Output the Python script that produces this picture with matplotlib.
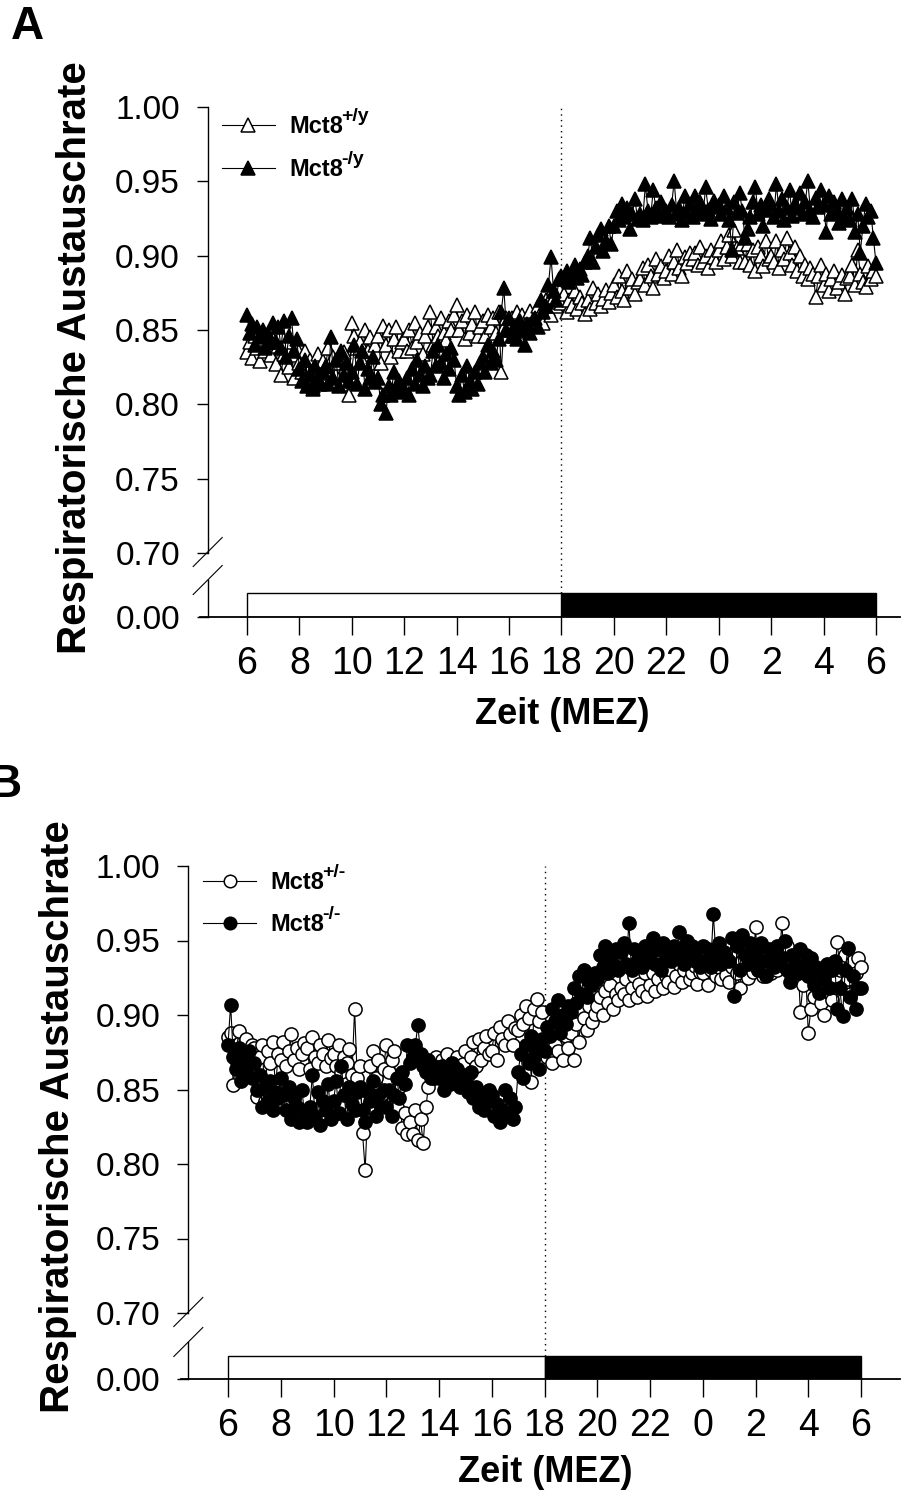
import numpy as np
import matplotlib
matplotlib.use("Agg")
import matplotlib.pyplot as plt
from matplotlib.lines import Line2D
from matplotlib.ticker import FormatStrFormatter

plt.rcParams['font.family'] = ['Liberation Sans', 'DejaVu Sans']

# ---------------- data ----------------
# one value every 6 minutes from 6:00 to 6:00 next day (hours since midnight)
minutes = np.arange(0, 24 * 60 + 1, 6)
hours = 6 + minutes / 60.0

xticks = [6, 8, 10, 12, 14, 16, 18, 20, 22, 24, 26, 28, 30]
xticklabels = ['6', '8', '10', '12', '14', '16', '18', '20', '22', '0', '2', '4', '6']
yticks = [0.70, 0.75, 0.80, 0.85, 0.90, 0.95, 1.00]

phase_start = [6, 18]
phase_width = [12, 12]
phase_color = ['white', 'black']
lights_off = 18

# Panel A (male): Mct8+/y (open) and Mct8-/y (filled)
rer_wt_male = [
    .835, .842, .831, .846, .838, .829, .844, .836, .840, .833,
    .844, .827, .839, .820, .834, .842, .825, .833, .818, .838,
    .828, .822, .836, .818, .830, .812, .826, .834, .821, .829,
    .826, .838, .816, .832, .820, .828, .814, .835, .822, .806,
    .855, .846, .838, .842, .830, .850, .836, .845, .828, .840,
    .846, .828, .853, .840, .850, .832, .844, .852, .836, .842,
    .844, .836, .850, .838, .855, .842, .848, .834, .846, .852,
    .862, .840, .852, .846, .858, .848, .843, .856, .850, .860,
    .867, .850, .856, .844, .860, .848, .854, .862, .846, .852,
    .856, .846, .860, .852, .858, .848, .862, .822, .852, .858,
    .850, .858, .846, .862, .854, .860, .849, .856, .863, .855,
    .858, .866, .862, .855, .870, .864, .860, .872, .866, .869,
    .868, .874, .862, .870, .866, .876, .864, .872, .868, .861,
    .870, .864, .878, .868, .874, .866, .871, .877, .869, .875,
    .880, .872, .886, .876, .870, .890, .878, .884, .874, .882,
    .884, .892, .880, .894, .886, .878, .898, .888, .893, .885,
    .890, .900, .888, .896, .904, .892, .886, .899, .895, .902,
    .898, .902, .894, .906, .896, .900, .892, .904, .899, .896,
    .904, .910, .898, .906, .914, .900, .917, .905, .896, .908,
    .896, .908, .894, .904, .890, .906, .900, .893, .910, .898,
    .900, .896, .910, .892, .904, .898, .912, .902, .894, .906,
    .890, .900, .886, .894, .884, .892, .888, .872, .886, .894,
    .880, .888, .876, .884, .890, .878, .882, .887, .874, .885,
    .886, .894, .880, .904, .888, .882, .879, .893, .884, .890,
    .886]
rer_ko_male = [
    .860, .848, .854, .840, .852, .845, .850, .838, .847, .842,
    .855, .842, .852, .838, .856, .832, .846, .858, .836, .844,
    .824, .816, .830, .812, .820, .810, .826, .818, .814, .822,
    .826, .814, .845, .818, .830, .812, .836, .820, .828, .816,
    .822, .840, .814, .828, .836, .810, .824, .818, .832, .815,
    .818, .800, .806, .794, .812, .806, .822, .810, .816, .808,
    .810, .818, .806, .824, .814, .830, .820, .812, .826, .818,
    .820, .836, .826, .840, .828, .818, .834, .824, .838, .830,
    .812, .806, .820, .808, .826, .816, .810, .822, .814, .828,
    .832, .822, .840, .828, .836, .830, .844, .862, .878, .850,
    .858, .846, .852, .844, .856, .850, .840, .854, .848, .857,
    .858, .852, .870, .862, .866, .880, .899, .876, .870, .884,
    .886, .884, .890, .882, .888, .894, .885, .891, .887, .896,
    .900, .912, .896, .906, .914, .918, .903, .910, .920, .908,
    .920, .930, .924, .935, .926, .932, .918, .928, .938, .925,
    .928, .924, .948, .930, .926, .944, .932, .927, .936, .929,
    .930, .926, .934, .950, .928, .932, .924, .940, .929, .935,
    .926, .940, .930, .936, .928, .946, .931, .925, .937, .933,
    .934, .928, .940, .932, .924, .904, .936, .929, .942, .930,
    .912, .918, .926, .936, .946, .928, .934, .920, .931, .938,
    .934, .926, .948, .930, .938, .924, .932, .944, .927, .935,
    .932, .942, .928, .936, .950, .930, .926, .939, .933, .944,
    .934, .916, .940, .928, .936, .930, .922, .938, .925, .932,
    .924, .938, .916, .928, .902, .920, .935, .926, .930, .912,
    .895]

# Panel B (female): Mct8+/- (open) and Mct8-/- (filled)
rer_het_female = [
    .885, .888, .853, .870, .889, .866, .878, .884, .872, .880,
    .878, .845, .872, .880, .842, .876, .868, .882, .850, .874,
    .870, .882, .866, .876, .887, .870, .878, .864, .874, .881,
    .878, .864, .885, .872, .868, .880, .874, .866, .883, .871,
    .874, .866, .880, .862, .872, .868, .877, .860, .904, .858,
    .866, .821, .796, .838, .866, .876, .858, .870, .846, .864,
    .880, .862, .870, .876, .838, .852, .824, .834, .820, .828,
    .820, .836, .816, .830, .814, .838, .852, .866, .858, .872,
    .862, .870, .858, .874, .864, .868, .856, .872, .862, .867,
    .876, .860, .872, .882, .866, .884, .870, .878, .886, .874,
    .876, .888, .870, .892, .884, .880, .896, .887, .880, .891,
    .890, .900, .894, .906, .898, .855, .904, .911, .896, .902,
    .884, .872, .890, .868, .880, .876, .894, .870, .886, .878,
    .888, .870, .894, .882, .902, .898, .890, .906, .895, .901,
    .906, .912, .900, .916, .908, .920, .904, .914, .910, .918,
    .914, .924, .910, .918, .926, .912, .921, .916, .928, .913,
    .920, .928, .916, .924, .932, .918, .926, .922, .930, .919,
    .926, .934, .922, .930, .938, .924, .928, .933, .921, .929,
    .928, .934, .920, .930, .936, .926, .932, .924, .938, .927,
    .922, .932, .940, .928, .918, .936, .930, .925, .934, .929,
    .959, .930, .940, .926, .936, .932, .928, .944, .930, .935,
    .962, .932, .946, .928, .936, .924, .940, .902, .920, .930,
    .888, .904, .912, .930, .920, .908, .900, .916, .925, .910,
    .926, .949, .930, .918, .940, .924, .914, .936, .928, .938,
    .932]
rer_ko_female = [
    .880, .907, .872, .864, .878, .856, .870, .862, .876, .858,
    .868, .850, .860, .838, .852, .842, .856, .836, .848, .844,
    .858, .846, .836, .852, .830, .844, .838, .828, .850, .834,
    .828, .838, .860, .832, .848, .826, .842, .836, .854, .830,
    .842, .856, .834, .866, .846, .830, .852, .840, .836, .848,
    .852, .836, .828, .848, .842, .856, .832, .846, .838, .850,
    .838, .850, .832, .846, .858, .844, .862, .854, .880, .868,
    .872, .880, .893, .874, .866, .862, .870, .858, .866, .860,
    .858, .866, .850, .862, .854, .868, .856, .864, .852, .860,
    .856, .848, .862, .844, .852, .838, .846, .836, .842, .850,
    .846, .832, .840, .828, .836, .850, .834, .844, .830, .838,
    .862, .874, .858, .880, .868, .886, .872, .878, .864, .884,
    .876, .892, .886, .904, .896, .910, .888, .900, .894, .906,
    .902, .918, .908, .926, .914, .930, .912, .922, .920, .928,
    .924, .940, .932, .946, .928, .938, .934, .944, .930, .942,
    .948, .934, .962, .930, .944, .936, .940, .932, .946, .938,
    .940, .952, .934, .944, .930, .948, .938, .942, .936, .946,
    .938, .956, .942, .934, .950, .940, .946, .936, .944, .932,
    .946, .936, .944, .932, .968, .940, .948, .934, .942, .938,
    .936, .952, .913, .946, .930, .954, .940, .934, .948, .938,
    .942, .930, .948, .936, .926, .944, .938, .932, .946, .935,
    .938, .950, .930, .922, .940, .934, .928, .944, .932, .940,
    .926, .938, .920, .932, .915, .928, .924, .934, .918, .930,
    .936, .904, .918, .899, .930, .945, .912, .926, .904, .918,
    .918]

# ---------------- figure ----------------
W, H = 902, 1495
fig = plt.figure(figsize=(W / 100, H / 100), dpi=100)


def px_axes(l, t, r, b):
    return fig.add_axes([l / W, 1 - b / H, (r - l) / W, (b - t) / H])


def fig_line(x0, y0, x1, y1, **kw):
    fig.add_artist(Line2D([x0 / W, x1 / W], [1 - y0 / H, 1 - y1 / H],
                          transform=fig.transFigure, **kw))


TICK_FS = 24
XTICK_FS = 27
LAB_FS = 29
legends = []


def panel(cfg):
    s = (cfg['x30'] - cfg['x6']) / 24.0
    x0 = 6 - (cfg['x6'] - cfg['axl']) / s
    x1 = 6 + (W - 2 - cfg['x6']) / s
    xsp = 6 - (cfg['x6'] - cfg['spine']) / s

    # upper part of the broken axis
    ax = px_axes(cfg['axl'], cfg['y100'], W - 2, cfg['y070'])
    ax.set_xlim(x0, x1)
    ax.set_ylim(0.70, 1.00)
    for sp in ['top', 'right', 'bottom']:
        ax.spines[sp].set_visible(False)
    ax.spines['left'].set_position(('data', xsp))
    ax.spines['left'].set_linewidth(1.0)
    ax.set_xticks([])
    ax.set_yticks(yticks)
    ax.yaxis.set_major_formatter(FormatStrFormatter('%.2f'))
    ax.tick_params(axis='y', direction='out', length=8, width=1.0,
                   labelsize=TICK_FS, pad=12)
    gap = cfg['bar_top'] - cfg['y070']
    ax.axvline(lights_off, ymin=-gap / (cfg['y070'] - cfg['y100']), ymax=1,
               color='black', lw=1.0, ls=(0, (1, 3)), clip_on=False, zorder=1)

    l1, = ax.plot(hours, cfg['open'], color='black', lw=0.8,
                  marker=cfg['marker'], ms=cfg['ms'], mfc='white', mec='black',
                  mew=1.1, zorder=3, clip_on=False)
    l2, = ax.plot(hours, cfg['filled'], color='black', lw=0.8,
                  marker=cfg['marker'], ms=cfg['ms'], mfc='black', mec='black',
                  mew=1.1, zorder=4, clip_on=False)
    leg = ax.legend([l1, l2], ['Mct8', 'Mct8'], loc='upper left',
                    bbox_to_anchor=cfg['leg_anchor'], frameon=False,
                    handlelength=2.25, handletextpad=0.6,
                    labelspacing=cfg['leg_space'], markerscale=0.95,
                    borderaxespad=0, borderpad=0,
                    prop={'weight': 'bold', 'size': 17})
    legends.append((leg, cfg['sups']))

    # lower part (0.00) with light/dark bar
    axb = px_axes(cfg['axl'], cfg['y000'] - 37, W - 2, cfg['y000'])
    axb.set_xlim(x0, x1)
    axb.set_ylim(0, 1)
    for sp in ['top', 'right']:
        axb.spines[sp].set_visible(False)
    axb.spines['left'].set_position(('data', xsp))
    axb.spines['left'].set_linewidth(1.0)
    axb.spines['bottom'].set_linewidth(1.3)
    axb.set_yticks([0])
    axb.yaxis.set_major_formatter(FormatStrFormatter('%.2f'))
    axb.set_xticks(xticks)
    axb.set_xticklabels(xticklabels)
    axb.tick_params(axis='y', direction='out', length=8, width=1.0,
                    labelsize=TICK_FS, pad=12)
    axb.tick_params(axis='x', direction='out', length=13, width=1.0,
                    labelsize=XTICK_FS, pad=8)
    bh = (cfg['y000'] - cfg['bar_top']) / 37.0
    axb.bar(phase_start, [bh, bh], width=phase_width, align='edge',
            color=phase_color, edgecolor='black', linewidth=1.0, zorder=2)
    axb.axvline(lights_off, ymin=bh, ymax=1, color='black', lw=1.0,
                ls=(0, (1, 3)), zorder=1)

    # axis break marks
    sx = cfg['spine']
    for cy in (cfg['y070'] - 1, cfg['y000'] - 37):
        fig_line(sx - 14.5, cy + 14.5, sx + 14.5, cy - 14.5, color='black', lw=0.8)

    fig.text(cfg['letter'][0] / W, 1 - cfg['letter'][1] / H, cfg['letter'][2],
             fontsize=33, fontweight='bold', ha='center', va='center')
    fig.text(cfg['ylab'][0] / W, 1 - cfg['ylab'][1] / H,
             'Respiratorische Austauschrate', rotation=90, fontsize=LAB_FS,
             fontweight='bold', ha='center', va='center')
    fig.text(cfg['xlab'][0] / W, 1 - cfg['xlab'][1] / H, 'Zeit (MEZ)',
             fontsize=26, fontweight='bold', ha='center', va='center')


panel(dict(x6=247, x30=876, axl=200, spine=207.7, y100=107, y070=553,
           bar_top=593, y000=617, open=rer_wt_male, filled=rer_ko_male,
           marker='^', ms=10.5, sups=['+/y', '-/y'], leg_space=0.83,
           leg_anchor=(0.031, 0.981),
           letter=(27, 27, 'A'), ylab=(75, 358), xlab=(562, 714)))

panel(dict(x6=228, x30=861, axl=181, spine=188.3, y100=866, y070=1313,
           bar_top=1356, y000=1379, open=rer_het_female, filled=rer_ko_female,
           marker='o', ms=9.5, sups=['+/-', '-/-'], leg_space=0.81,
           leg_anchor=(0.0306, 0.988),
           letter=(5, 785, 'B'), ylab=(58, 1117), xlab=(545, 1472)))

# superscripts of the genotype labels, placed right after each legend text
fig.canvas.draw()
renderer = fig.canvas.get_renderer()
for leg, sups in legends:
    for txt, sup in zip(leg.get_texts(), sups):
        ext = txt.get_window_extent(renderer)
        fig.text((ext.x1 - 2) / W, (ext.y0 + 17) / H, sup, fontsize=14,
                 fontweight='bold', ha='left', va='baseline')

fig.savefig('out.png', dpi=100)
